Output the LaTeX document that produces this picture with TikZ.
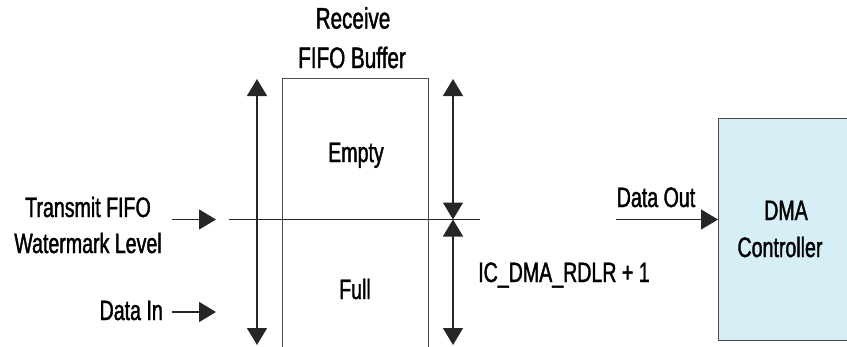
\documentclass[tikz,border=0pt]{standalone}
\usepackage{fontspec}
\setmainfont[FakeStretch=0.7,FakeBold=1.4]{Liberation Sans}
\usetikzlibrary{arrows.meta}
\definecolor{dmablue}{HTML}{D6EEF5}
\tikzset{
  lbl/.style={font=\fontsize{28}{33}\selectfont, inner sep=0pt, anchor=base},
  bigl/.style={font=\fontsize{29.5}{34}\selectfont, inner sep=0pt, anchor=base},
  ln/.style={line width=1.3pt, draw=black!85},
  tri/.style={ln, -{Triangle[length=17pt,width=20pt]}},
  dbl/.style={ln, {Triangle[length=17pt,width=20pt]}-{Triangle[length=17pt,width=20pt]}},
  boxst/.style={draw=black!70, line width=1.3pt, inner sep=0pt, anchor=north west}
}
\begin{document}
\begin{tikzpicture}[x=1pt,y=-1pt]
\useasboundingbox (0,0) rectangle (847,346);
\clip (0,0) rectangle (847,346);

% boxes
\node[boxst, minimum width=146pt, minimum height=300pt] (fifo) at (282,78) {};
\node[boxst, fill=dmablue, minimum width=160pt, minimum height=222pt] (dma) at (718,118) {};

% titles and labels
\node[bigl] (rcv) at (353,28.5) {Receive};
\node[bigl] (fb) at (352,68) {FIFO Buffer};
\node[lbl] (empty) at (356,162) {Empty};
\node[lbl] (full) at (355,299) {Full};
\node[lbl] (tx1) at (88,217) {Transmit FIFO};
\node[lbl] (tx2) at (88,253) {Watermark Level};
\node[lbl, anchor=base east] (din) at (163,320) {Data In};
\node[lbl, anchor=base west] (rdlr) at (478,282) {IC\_DMA\_RDLR + 1};
\node[lbl] (dout) at (656,207) {Data Out};
\node[lbl] (dmat) at (786,220) {DMA};
\node[lbl] (ctrl) at (780,257) {Controller};

% coordinates
\coordinate (txs) at (172,219.5);
\coordinate (txe) at (216,219.5);
\coordinate (dis) at (172,312);
\coordinate (die) at (216,312);
\coordinate (wl) at (229,219.5);
\coordinate (wr) at (480,219.5);
\coordinate (lt) at (257,79);
\coordinate (lb) at (257,345);
\coordinate (rt) at (453,79);
\coordinate (rm) at (453,219.5);
\coordinate (rb) at (453,345);
\coordinate (dos) at (616,219.5);

% connectors
\draw[tri] (txs) -- (txe);
\draw[tri] (dis) -- (die);
\draw[ln] (wl) -- (wr);
\draw[dbl] (lt) -- (lb);
\draw[dbl] (rt) -- (rm);
\draw[dbl] (rm) -- (rb);
\draw[tri] (dos) -- (dma.west |- dos);
\end{tikzpicture}
\end{document}
